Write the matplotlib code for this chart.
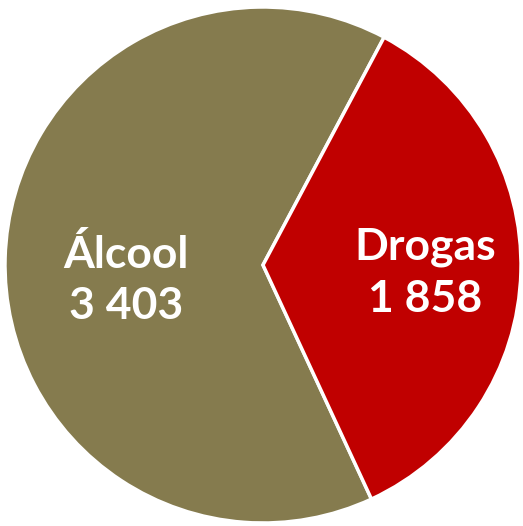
import matplotlib.pyplot as plt

labels = ['Álcool', 'Drogas']
values = [3403, 1858]
value_labels = ['3 403', '1 858']
colors = ['#857B4E', '#C00000']

fig = plt.figure(figsize=(5.23, 5.26), dpi=100)
ax = fig.add_axes([0, 0, 1, 1])

wedges, _ = ax.pie(values, colors=colors, startangle=62, radius=258,
                   wedgeprops=dict(edgecolor='white', linewidth=2.5))

# eixos em pixeis: centro da tarte em (263, 265) a contar do topo
ax.set_xlim(-263, 260)
ax.set_ylim(-261, 265)
ax.set_aspect('equal')
ax.axis('off')

# posicoes dos rotulos
pos = [(-137, -15), (162, -8)]
for (x, y), lab, val in zip(pos, labels, value_labels):
    ax.text(x, y, lab + '\n' + val, ha='center', va='center', color='white',
            fontsize=32, fontweight='bold', family=['Lato', 'DejaVu Sans'],
            linespacing=1.35)

fig.savefig('out.png', dpi=100, facecolor='white')
